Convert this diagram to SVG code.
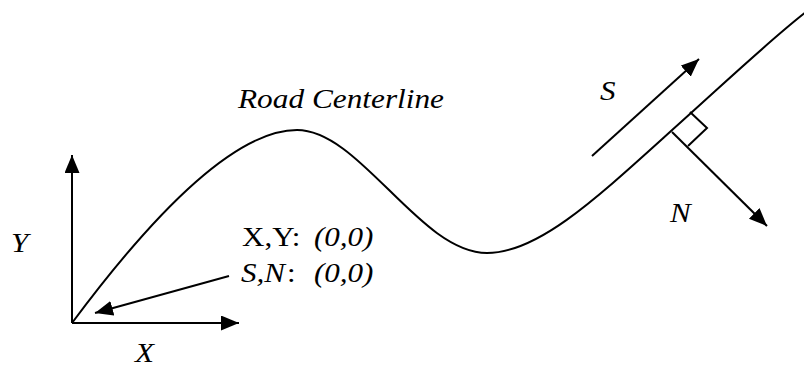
<svg xmlns="http://www.w3.org/2000/svg" width="804" height="368" viewBox="0 0 804 368">
<style>
.ln{fill:none;stroke:#000;stroke-width:2}
.t{font-family:'Liberation Serif','Times New Roman',serif;font-size:27px;fill:#000}
.i{font-style:italic}
</style>
<defs>
<marker id="ah" markerUnits="userSpaceOnUse" markerWidth="20" markerHeight="16" refX="18" refY="7.5" orient="auto">
<path d="M0,0 L18,7.5 L0,15 z" fill="#000"/>
</marker>
</defs>
<rect width="804" height="368" fill="#fff"/>
<g id="road">
<path class="ln" d="M72,323 C130,245 225,130 297,130 C360,130 420,253 487,253 C540,253 600,195 681,122 C730,78 770,40 806,12"/>
<text class="t i" transform="translate(238,108) scale(1.16,1)">Road Centerline</text>
</g>
<g id="connectors">
<line class="ln" x1="72" y1="323" x2="72" y2="155" marker-end="url(#ah)"/>
<line class="ln" x1="72" y1="323" x2="239" y2="323" marker-end="url(#ah)"/>
<line class="ln" x1="229" y1="276" x2="95" y2="313" marker-end="url(#ah)"/>
<line class="ln" x1="592" y1="156" x2="699" y2="59" marker-end="url(#ah)"/>
<line class="ln" x1="672" y1="132" x2="767" y2="226" marker-end="url(#ah)"/>
<path class="ln" d="M690,112 L707,128 L688,146" stroke-width="1.8"/>
</g>
<g id="axis-labels">
<text class="t i" transform="translate(11,252) scale(1.15,1)">Y</text>
<text class="t i" transform="translate(135,362) scale(1.15,1)">X</text>
</g>
<g id="origin-label">
<text class="t" transform="translate(242,246) scale(1.15,1)">X,Y:</text>
<text class="t i" transform="translate(314,246) scale(1.15,1)">(0,0)</text>
<text class="t i" transform="translate(241,282) scale(1.15,1)">S,N</text>
<text class="t" transform="translate(287,282) scale(1.15,1)">:</text>
<text class="t i" transform="translate(314,282) scale(1.15,1)">(0,0)</text>
</g>
<g id="sn-labels">
<text class="t i" transform="translate(600,100) scale(1.15,1)">S</text>
<text class="t i" transform="translate(670,222) scale(1.15,1)">N</text>
</g>
</svg>
